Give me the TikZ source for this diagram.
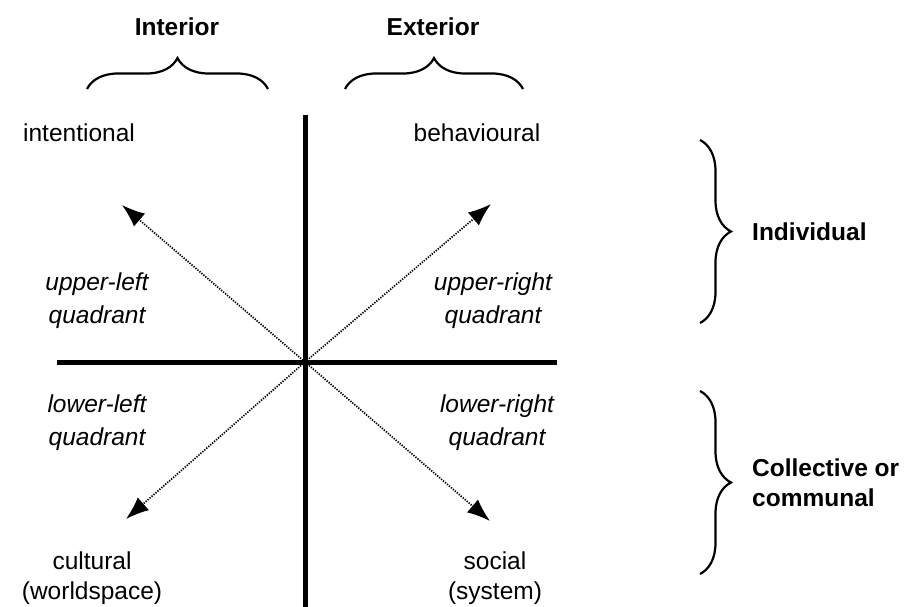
\documentclass[tikz,border=0pt]{standalone}
\usepackage{fontspec}
\setmainfont{Liberation Sans}
\usetikzlibrary{arrows.meta,decorations.pathreplacing}
\begin{document}
\begin{tikzpicture}[x=1pt,y=-1pt,
  lbl/.style={font=\fontsize{24.5}{30}\selectfont, align=center, inner sep=0pt},
  qlbl/.style={font=\fontsize{24.5}{33}\selectfont\itshape, align=center, inner sep=0pt},
  head/.style={font=\fontsize{24.5}{30}\selectfont\bfseries, align=left, inner sep=0pt},
  axis/.style={line width=5pt},
  ray/.style={line width=1.7pt, dash pattern=on 1.3pt off 1.3pt, -{Latex[length=23pt,width=17pt]}},
  bracetop/.style={line width=2.2pt, decorate, decoration={brace, amplitude=31pt}},
]
\useasboundingbox (0,0) rectangle (908,607);

% axes
\coordinate (top) at (305,115);
\coordinate (bot) at (305,607);
\coordinate (lft) at (57,362);
\coordinate (rgt) at (557,362);
\coordinate (o) at (305,362);
\draw[axis] (top) -- (bot);
\draw[axis] (lft) -- (rgt);

% diagonal rays
\coordinate (ul) at (122,205);
\coordinate (ur) at (491,204);
\coordinate (ll) at (126,519);
\coordinate (lr) at (490,521);
\draw[ray] (o) -- (ul);
\draw[ray] (o) -- (ur);
\draw[ray] (o) -- (ll);
\draw[ray] (o) -- (lr);

% corner labels
\node[lbl] (intent) at (79,133) {intentional};
\node[lbl] (behav) at (477,133) {behavioural};
\node[lbl] (cult) at (92,578) {cultural\\(worldspace)};
\node[lbl] (soc) at (495,578) {social\\(system)};

% quadrant labels
\node[qlbl] (qul) at (97,301) {upper-left\\quadrant};
\node[qlbl] (qur) at (493,301) {upper-right\\quadrant};
\node[qlbl] (qll) at (97,423) {lower-left\\quadrant};
\node[qlbl] (qlr) at (497,423) {lower-right\\quadrant};

% top braces and headings
\draw[bracetop] (87,89) -- (268,89);
\draw[bracetop] (345,89) -- (523,89);
\node[head] (interior) at (177,27) {Interior};
\node[head] (exterior) at (433,27) {Exterior};

% side braces and headings
\draw[bracetop] (700,140) -- (700,323);
\draw[bracetop] (700,391) -- (700,574);
\node[head, anchor=west] (indiv) at (752,232) {Individual};
\node[head, anchor=west] (coll) at (752,483) {Collective or\\communal};
\end{tikzpicture}
\end{document}
